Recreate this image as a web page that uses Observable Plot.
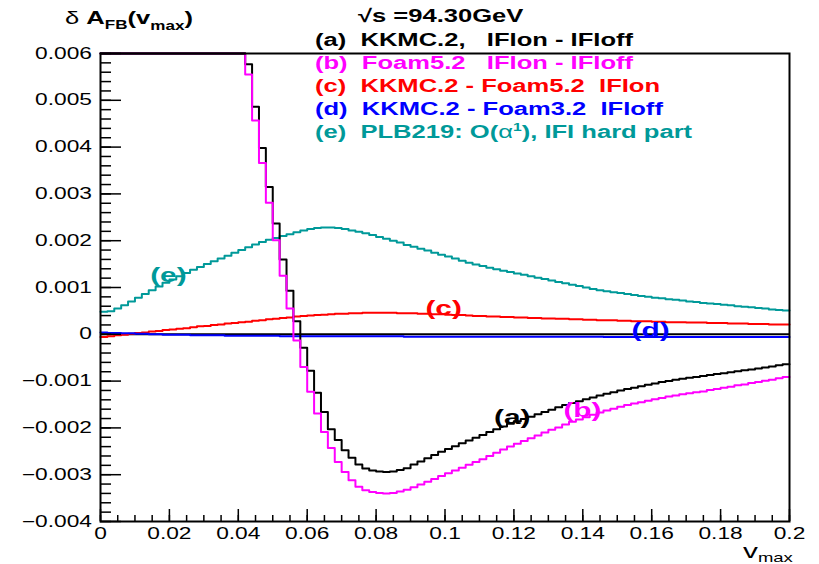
<!DOCTYPE html>
<html><head><meta charset="utf-8">
<script src="https://cdn.jsdelivr.net/npm/d3@7"></script>
<script src="https://cdn.jsdelivr.net/npm/@observablehq/plot@0.6"></script>
<style>
html,body{margin:0;padding:0;background:#fff;}
svg{display:block;}
</style></head><body><div id="chart"></div>
<script>
// ---- data: 100 bins of width 0.002 on v_max in [0, 0.2] ----
const BIN = 0.002;
// (a) KKMC.2, IFIon - IFIoff  (bins 0-20 are above the frame top)
const seriesA = [
 0.090,0.080,0.070,0.061,0.053,0.046,0.040,0.035,0.031,0.027,
 0.024,0.021,0.0185,0.0163,0.0144,0.0127,0.0112,0.0099,0.0087,0.0076,
 0.0066,0.00577,0.00486,0.00398,0.00315,0.00237,0.00160,0.00093,0.00028,-0.00029,
 -0.00078,-0.00125,-0.00166,-0.00203,-0.00226,-0.00248,-0.00264,-0.00278,-0.00287,-0.00291,
 -0.00293,-0.00294,-0.00293,-0.00290,-0.00286,-0.00278,-0.00272,-0.00265,-0.00258,-0.00251,
 -0.00245,-0.00239,-0.00233,-0.00227,-0.00221,-0.00215,-0.00209,-0.00203,-0.00197,-0.00191,
 -0.00186,-0.00181,-0.00176,-0.00171,-0.00166,-0.00161,-0.00156,-0.00151,-0.00147,-0.00143,
 -0.00139,-0.00135,-0.00131,-0.00127,-0.00124,-0.00120,-0.00117,-0.00114,-0.00111,-0.00108,
 -0.00105,-0.00102,-0.00100,-0.00097,-0.00095,-0.00093,-0.00091,-0.00089,-0.00087,-0.00085,
 -0.00083,-0.00081,-0.00079,-0.00077,-0.00075,-0.00073,-0.00071,-0.00069,-0.00066,-0.00064
];
// (b) Foam5.2 IFIon - IFIoff
const seriesB = [
 0.088,0.078,0.068,0.059,0.051,0.044,0.038,0.033,0.029,0.026,
 0.023,0.020,0.0178,0.0157,0.0139,0.0123,0.0108,0.0095,0.0083,0.0073,
 0.0064,0.00555,0.00457,0.00366,0.00281,0.00201,0.00125,0.00055,-0.00013,-0.00070,
 -0.00123,-0.00169,-0.00209,-0.00243,-0.00273,-0.00294,-0.00312,-0.00326,-0.00333,-0.00337,
 -0.00339,-0.00340,-0.00339,-0.00336,-0.00332,-0.00327,-0.00321,-0.00315,-0.00309,-0.00303,
 -0.00297,-0.00291,-0.00285,-0.00279,-0.00273,-0.00267,-0.00260,-0.00253,-0.00246,-0.00240,
 -0.00234,-0.00228,-0.00222,-0.00216,-0.00210,-0.00204,-0.00199,-0.00193,-0.00187,-0.00182,
 -0.00177,-0.00172,-0.00167,-0.00163,-0.00159,-0.00155,-0.00151,-0.00148,-0.00145,-0.00142,
 -0.00139,-0.00136,-0.00133,-0.00131,-0.00128,-0.00126,-0.00124,-0.00122,-0.00119,-0.00117,
 -0.00114,-0.00112,-0.00109,-0.00107,-0.00104,-0.00102,-0.00099,-0.00097,-0.00094,-0.00091
];
// (c) KKMC.2 - Foam5.2 IFIon
const seriesC = [
 -0.00006,-0.00004,-0.00002,-0.00001,0.00001,0.00003,0.00004,0.00006,0.00007,0.00009,
 0.00010,0.00012,0.00013,0.00015,0.00017,0.00018,0.00020,0.00021,0.00023,0.00024,
 0.00026,0.00027,0.00029,0.00030,0.00032,0.00033,0.00035,0.00036,0.00038,0.00039,
 0.00040,0.00041,0.00042,0.00043,0.00044,0.00044,0.00045,0.00045,0.00046,0.00046,
 0.00046,0.00046,0.00046,0.00045,0.00045,0.00045,0.00044,0.00044,0.00043,0.00043,
 0.00042,0.00041,0.00041,0.00040,0.00039,0.00039,0.00038,0.00038,0.00037,0.00037,
 0.00036,0.00036,0.00035,0.00035,0.00034,0.00034,0.00033,0.00033,0.00032,0.00032,
 0.00031,0.00031,0.00030,0.00030,0.00030,0.00029,0.00029,0.00028,0.00028,0.00028,
 0.00027,0.00027,0.00026,0.00026,0.00026,0.00025,0.00025,0.00025,0.00024,0.00024,
 0.00024,0.00023,0.00023,0.00023,0.00022,0.00022,0.00022,0.00021,0.00021,0.00021
];
// (d) KKMC.2 - Foam3.2 IFIoff
const seriesD = [
 0.00004,0.00003,0.00003,0.00002,0.00002,0.00001,0.00001,0.00000,0.00000,-0.00001,
 -0.00001,-0.00001,-0.00001,-0.00002,-0.00002,-0.00002,-0.00002,-0.00002,-0.00003,-0.00003,
 -0.00003,-0.00003,-0.00003,-0.00003,-0.00003,-0.00003,-0.00004,-0.00004,-0.00004,-0.00004,
 -0.00004,-0.00004,-0.00004,-0.00004,-0.00004,-0.00004,-0.00004,-0.00004,-0.00004,-0.00004,
 -0.00004,-0.00004,-0.00004,-0.00004,-0.00005,-0.00005,-0.00005,-0.00005,-0.00005,-0.00005,
 -0.00005,-0.00005,-0.00005,-0.00005,-0.00005,-0.00005,-0.00005,-0.00005,-0.00005,-0.00005,
 -0.00005,-0.00005,-0.00005,-0.00005,-0.00005,-0.00005,-0.00005,-0.00005,-0.00005,-0.00005,
 -0.00005,-0.00005,-0.00005,-0.00006,-0.00006,-0.00006,-0.00006,-0.00006,-0.00006,-0.00006,
 -0.00006,-0.00006,-0.00006,-0.00006,-0.00006,-0.00006,-0.00006,-0.00006,-0.00006,-0.00006,
 -0.00006,-0.00006,-0.00006,-0.00006,-0.00006,-0.00006,-0.00006,-0.00006,-0.00006,-0.00006
];
// (e) PLB219: O(alpha^1), IFI hard part
const seriesE = [
 0.00048,0.00049,0.00055,0.00062,0.00070,0.00078,0.00086,0.00094,0.00102,0.00110,
 0.00117,0.00124,0.00131,0.00138,0.00144,0.00150,0.00156,0.00162,0.00168,0.00174,
 0.00180,0.00186,0.00192,0.00197,0.00202,0.00206,0.00210,0.00214,0.00218,0.00222,
 0.00225,0.00227,0.00228,0.00228,0.00227,0.00225,0.00222,0.00219,0.00216,0.00212,
 0.00208,0.00204,0.00200,0.00196,0.00191,0.00187,0.00183,0.00179,0.00174,0.00170,
 0.00166,0.00162,0.00157,0.00153,0.00149,0.00146,0.00142,0.00139,0.00136,0.00133,
 0.00130,0.00127,0.00124,0.00121,0.00118,0.00115,0.00112,0.00109,0.00106,0.00103,
 0.00100,0.00097,0.00094,0.00092,0.00090,0.00088,0.00086,0.00084,0.00082,0.00080,
 0.00078,0.00077,0.00075,0.00074,0.00072,0.00070,0.00069,0.00067,0.00066,0.00065,
 0.00063,0.00062,0.00060,0.00059,0.00058,0.00056,0.00055,0.00053,0.00052,0.00051
];
const seriesKeys = ["(a)", "(b)", "(c)", "(d)", "(e)"];
const seriesColors = ["#000000", "#ff00ff", "#ff0000", "#0000ff", "#009999"];
const legendTexts = [
  "(a)  KKMC.2,   IFIon - IFIoff",
  "(b)  Foam5.2   IFIon - IFIoff",
  "(c)  KKMC.2 - Foam5.2  IFIon",
  "(d)  KKMC.2 - Foam3.2  IFIoff"
];
const energyText = "=94.30GeV";
// on-curve label anchors (data units)
const labelV = [0.1195, 0.1399, 0.0996, 0.1597, 0.0197];
const labelY = [-0.00177, -0.00162, 0.00056, 0.00009, 0.00126];

const xTickValues = [0, 0.02, 0.04, 0.06, 0.08, 0.1, 0.12, 0.14, 0.16, 0.18, 0.2];
const xTickLabels = ["0", "0.02", "0.04", "0.06", "0.08", "0.1", "0.12", "0.14", "0.16", "0.18", "0.2"];
const yTickValues = [-0.004, -0.003, -0.002, -0.001, 0, 0.001, 0.002, 0.003, 0.004, 0.005, 0.006];
const yTickLabels = ["\u22120.004", "\u22120.003", "\u22120.002", "\u22120.001", "0", "0.001", "0.002", "0.003", "0.004", "0.005", "0.006"];

// ---- layout ----
const W = 819, H = 564, ML = 100, MR = 30, MT = 53, MB = 43;
const FW = W - ML - MR, FH = H - MT - MB;
const FONT = "'Liberation Sans', Arial, Helvetica, sans-serif";
const STRETCH = 1.42;

function histPoints(vals) {
  const pts = vals.map((y, i) => ({x: i * BIN, y}));
  pts.push({x: vals.length * BIN, y: vals[vals.length - 1]});
  return pts;
}
const allSeries = [seriesA, seriesB, seriesC, seriesD, seriesE];
const xMinor = d3.range(0, 0.2 + 1e-9, 0.005);
const yMinor = d3.range(-0.004, 0.006 + 1e-9, 0.0002);
const labels = seriesKeys.map((k, i) => ({k, v: labelV[i], y: labelY[i], c: seriesColors[i]}));

const histMarks = allSeries.map((s, i) =>
  Plot.line(histPoints(s), {x: "x", y: "y", curve: "step-after", stroke: seriesColors[i], strokeWidth: 2})
);
// the off-scale (clamped) part of (a) shows on top along the frame
const aboveTop = seriesA.filter(v => v > 0.006).length;
const clampedA = Plot.line(histPoints(seriesA.slice(0, aboveTop)), {x: "x", y: "y", curve: "step-after", stroke: "#000", strokeWidth: 2});
// draw order: e, c, d, a, b so that magenta sits above black
const order = [4, 2, 3, 0, 1];

const chart = Plot.plot({
  width: W, height: H,
  marginLeft: ML, marginRight: MR, marginTop: MT, marginBottom: MB,
  style: {fontFamily: FONT, fontSize: "16px", background: "#fff", color: "#000"},
  x: {domain: [0, 0.2]},
  y: {domain: [-0.004, 0.006], clamp: true},
  marks: [
    Plot.ruleY([0], {stroke: "#000", strokeWidth: 2}),
    ...order.map(i => histMarks[i]),
    clampedA,
    Plot.tickX(xMinor, {x: d => d, insetTop: FH - 6, stroke: "#000", strokeWidth: 1.5}),
    Plot.tickX(xTickValues, {x: d => d, insetTop: FH - 12, stroke: "#000", strokeWidth: 1.5}),
    Plot.tickY(yMinor, {y: d => d, insetRight: FW - 11, stroke: "#000", strokeWidth: 1.5}),
    Plot.tickY(yTickValues, {y: d => d, insetRight: FW - 21, stroke: "#000", strokeWidth: 1.5}),
    Plot.axisX({ticks: xTickValues, tickSize: 0, tickPadding: 6, tickFormat: d => xTickLabels[xTickValues.indexOf(d)], fontSize: 16, label: null}),
    Plot.axisY({ticks: yTickValues, tickSize: 0, tickPadding: 8.5, tickFormat: d => yTickLabels[yTickValues.indexOf(d)], fontSize: 16, label: null}),
    Plot.text(labels, {x: "v", y: "y", text: "k", fill: "c", fontSize: 21, fontWeight: "bold", textAnchor: "middle", lineAnchor: "middle"}),
    Plot.frame({stroke: "#000", strokeWidth: 2})
  ]
});
document.getElementById("chart").appendChild(chart);

const svg = d3.select(chart);
function addText(x, y) {
  return svg.append("text").attr("x", x).attr("y", y).attr("text-anchor", "start")
    .attr("font-family", FONT).attr("fill", "#000");
}
// title
const t = addText(65, 24).attr("font-size", 18).attr("font-weight", "bold");
t.append("tspan").attr("font-weight", "normal").text("\u03b4 ");
t.append("tspan").text("A");
t.append("tspan").attr("font-size", 12).attr("dy", 5).text("FB");
t.append("tspan").attr("dy", -5).text("(v");
t.append("tspan").attr("font-size", 12).attr("dy", 6).text("max");
t.append("tspan").attr("dy", -6).text(")");

// x-axis title
const xt = addText(743, 558).attr("font-size", 21);
xt.append("tspan").text("v");
xt.append("tspan").attr("font-size", 13).attr("dy", 4).text("max");

// energy line
const en = addText(358, 22).attr("font-size", 18).attr("font-weight", "bold");
en.append("tspan").text("\u221as ");
en.append("tspan").text(energyText);

// legend
const lineY = [45.5, 68.5, 91.5, 114.5, 137.5];
legendTexts.forEach((s, i) => {
  addText(315, lineY[i]).attr("font-size", 18).attr("font-weight", "bold")
    .attr("fill", seriesColors[i]).style("white-space", "pre").text(s);
});
const le = addText(315, lineY[4]).attr("font-size", 18).attr("font-weight", "bold")
  .attr("fill", seriesColors[4]).style("white-space", "pre");
le.append("tspan").text("(e)  PLB219: O(");
le.append("tspan").attr("font-weight", "normal").text("\u03b1");
le.append("tspan").attr("font-size", 11).attr("dy", -7).text("1");
le.append("tspan").attr("dy", 7).text("), IFI hard part");

// widen glyphs horizontally like the reference rendering
function stretch(el, k) {
  const len = el.getComputedTextLength();
  if (!(len > 0)) return;
  const anchor = getComputedStyle(el).textAnchor;
  const b0 = el.getBBox();
  el.setAttribute("textLength", len * k);
  el.setAttribute("lengthAdjust", "spacingAndGlyphs");
  if (anchor !== "end" && anchor !== "middle") return;
  const b1 = el.getBBox();
  let shift;
  if (anchor === "end") shift = (b0.x + b0.width) - (b1.x + b1.width);
  else shift = (b0.x + b0.width / 2) - (b1.x + b1.width / 2);
  if (Math.abs(shift) > 0.01) {
    const tr = el.getAttribute("transform") || "";
    el.setAttribute("transform", `translate(${shift},0) ${tr}`);
  }
}
chart.querySelectorAll("text").forEach(el => stretch(el, STRETCH));
</script>
</body></html>
